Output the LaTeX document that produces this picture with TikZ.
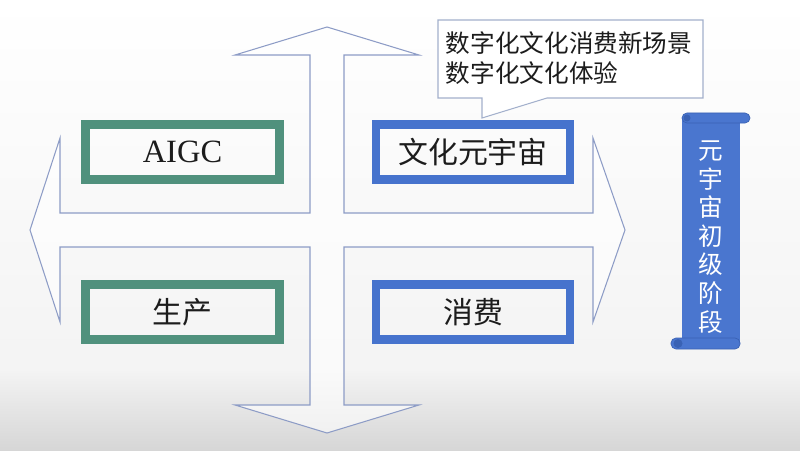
\documentclass[tikz,border=0pt]{standalone}
\usepackage{fontspec}
\usepackage{xcolor}
\usepackage{tikz}
\setmainfont{Liberation Serif}
\newfontfamily\cjk{Noto Sans CJK SC}
\definecolor{MVTeal}{HTML}{50917D}
\definecolor{MVBlue}{HTML}{4673CD}
\definecolor{MVScroll}{HTML}{4A76CF}
\definecolor{MVScrollDark}{HTML}{3A62B4}
\definecolor{MVArrow}{HTML}{8D9CC6}
\definecolor{MVCallout}{HTML}{A3B0CC}
\definecolor{MVInk}{HTML}{1C1C1C}

\begin{document}
\begin{tikzpicture}[x=1cm,y=1cm,
  quadbox/.style={draw,line width=5pt,minimum width=3.88cm,minimum height=1.10cm,inner sep=0pt,text=MVInk},
  cjkbig/.style={font=\cjk\fontsize{17}{20}\selectfont}]
\path[use as bounding box] (0,0) rectangle (16.00,9.00);
% background
\shade[top color=white,bottom color=gray!9] (0,1.60) rectangle (16.00,9.00);
\shade[top color=gray!9,bottom color=gray!32] (0,0) rectangle (16.00,1.60);
% four-way arrow
\filldraw[MVArrow,fill=white,fill opacity=.6,line width=.6pt]
  (6.54,8.46) -- (8.38,7.90) -- (6.88,7.90) -- (6.88,4.74) -- (11.86,4.74) -- (11.86,6.24)
  -- (12.50,4.40) -- (11.86,2.56) -- (11.86,4.06) -- (6.88,4.06) -- (6.88,0.90) -- (8.38,0.90)
  -- (6.54,0.34) -- (4.70,0.90) -- (6.20,0.90) -- (6.20,4.06) -- (1.20,4.06) -- (1.20,2.56)
  -- (0.60,4.40) -- (1.20,6.24) -- (1.20,4.74) -- (6.20,4.74) -- (6.20,7.90) -- (4.70,7.90) -- cycle;
% quadrants
\node[quadbox,MVTeal,font=\fontsize{18.5}{22}\selectfont] (aigc) at (3.65,5.96) {\color{MVInk}AIGC};
\node[quadbox,MVBlue,cjkbig] (wenhua) at (9.46,5.96) {\color{MVInk}文化元宇宙};
\node[quadbox,MVTeal,cjkbig] (shengchan) at (3.65,2.76) {\color{MVInk}生产};
\node[quadbox,MVBlue,cjkbig] (xiaofei) at (9.46,2.76) {\color{MVInk}消费};
% callout
\filldraw[MVCallout,fill=white,line width=.6pt]
  (8.76,8.60) -- (14.06,8.60) -- (14.06,7.04) -- (10.94,7.04) -- (9.64,6.64) -- (9.64,7.04) -- (8.76,7.04) -- cycle;
\node[align=left,inner sep=0pt,text=MVInk,font=\cjk\fontsize{14}{17}\selectfont] (callout) at (11.38,7.84)
  {数字化文化消费新场景\\数字化文化体验};
% scroll
\fill[MVScroll] (13.64,2.14) rectangle (14.80,6.64);
\filldraw[MVScroll,draw=MVScrollDark,line width=.4pt,rounded corners=.1cm] (13.64,6.54) rectangle (15.00,6.74);
\fill[MVScrollDark] (13.74,6.64) circle (.07);
\filldraw[MVScroll,draw=MVScrollDark,line width=.4pt,rounded corners=.1cm] (13.42,2.02) rectangle (14.80,2.24);
\fill[MVScrollDark] (13.56,2.13) circle (.09);
\node[align=center,inner sep=0pt,text=white,font=\cjk\fontsize{14}{16.3}\selectfont] (stage) at (14.22,4.26)
  {元\\宇\\宙\\初\\级\\阶\\段};
\end{tikzpicture}
\end{document}
